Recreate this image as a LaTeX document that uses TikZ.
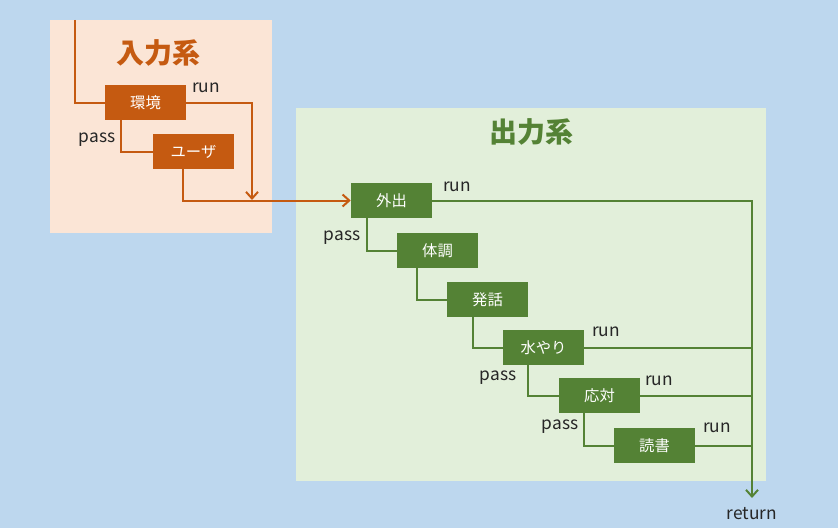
\documentclass[tikz,border=0pt]{standalone}
\usepackage{fontspec}
\setmainfont{Noto Sans CJK JP}
\usetikzlibrary{arrows.meta}
\definecolor{bgblue}{RGB}{189,215,238}
\definecolor{inpanel}{RGB}{251,229,214}
\definecolor{outpanel}{RGB}{226,239,218}
\definecolor{inorange}{RGB}{197,90,17}
\definecolor{outgreen}{RGB}{84,130,53}
\definecolor{labelgray}{RGB}{38,38,38}

\begin{document}
\begin{tikzpicture}[x=0.75pt,y=-0.75pt,
  sysbox/.style={minimum width=60.75pt,minimum height=26.25pt,inner sep=0pt,text=white,font=\fontsize{11.5}{13}\selectfont},
  inbox/.style={sysbox,fill=inorange},
  outbox/.style={sysbox,fill=outgreen},
  flow/.style={line width=1.5pt},
  tip/.style={-{Straight Barb[length=5pt,width=9pt]}},
  lbl/.style={text=labelgray,inner sep=0pt,font=\fontsize{13}{15}\selectfont},
  paneltitle/.style={inner sep=0pt,font=\fontsize{21}{24}\selectfont\bfseries}]
% background and panels
\fill[bgblue] (0,0) rectangle (838,528);
\fill[inpanel] (50,20) rectangle (272,233);
\fill[outpanel] (296,108) rectangle (766,481);
\node[paneltitle,text=inorange] (intitle) at (158,53) {入力系};
\node[paneltitle,text=outgreen] (outtitle) at (531,132) {出力系};
% input boxes
\node[inbox] (env) at (145.5,102.5) {環境};
\node[inbox] (user) at (193.5,151.5) {ユーザ};
% output boxes
\node[outbox] (out) at (391.5,200.5) {外出};
\node[outbox] (cond) at (437.5,250.5) {体調};
\node[outbox] (talk) at (487.5,299.5) {発話};
\node[outbox] (water) at (543.5,347.5) {水やり};
\node[outbox] (reply) at (599.5,395.5) {応対};
\node[outbox] (read) at (654.5,445.5) {読書};
\coordinate (start) at (75,20);
\coordinate (merge) at (252,200);
\coordinate (ret) at (752,498);
% input connectors
\draw[flow,inorange] (start) |- (env.west);
\draw[flow,inorange] ([xshift=12.5pt]env.south west) |- (user.west);
\draw[flow,inorange,tip] (env.east) -| (merge);
\draw[flow,inorange,tip] ([xshift=22.5pt]user.south west) |- (out.west);
% output connectors
\draw[flow,outgreen] ([xshift=12pt]out.south west) |- (cond.west);
\draw[flow,outgreen] ([xshift=15pt]cond.south west) |- (talk.west);
\draw[flow,outgreen] ([xshift=19.5pt]talk.south west) |- (water.west);
\draw[flow,outgreen] ([xshift=18.75pt]water.south west) |- (reply.west);
\draw[flow,outgreen] ([xshift=18.75pt]reply.south west) |- (read.west);
\draw[flow,outgreen,tip] (out.east) -| (ret);
\draw[flow,outgreen] (water.east) -- (water.east -| ret);
\draw[flow,outgreen] (reply.east) -- (reply.east -| ret);
\draw[flow,outgreen] (read.east) -- (read.east -| ret);
% labels
\node[lbl] (envrun) at (206,88) {run};
\node[lbl] (envpass) at (97,140) {pass};
\node[lbl] (outrun) at (457,187) {run};
\node[lbl] (outpass) at (342,238) {pass};
\node[lbl] (waterrun) at (606,332) {run};
\node[lbl] (waterpass) at (498,378) {pass};
\node[lbl] (replyrun) at (659,381) {run};
\node[lbl] (replypass) at (560,427) {pass};
\node[lbl] (readrun) at (717,428) {run};
\node[lbl] (rettext) at (752,514) {return};
\end{tikzpicture}
\end{document}
